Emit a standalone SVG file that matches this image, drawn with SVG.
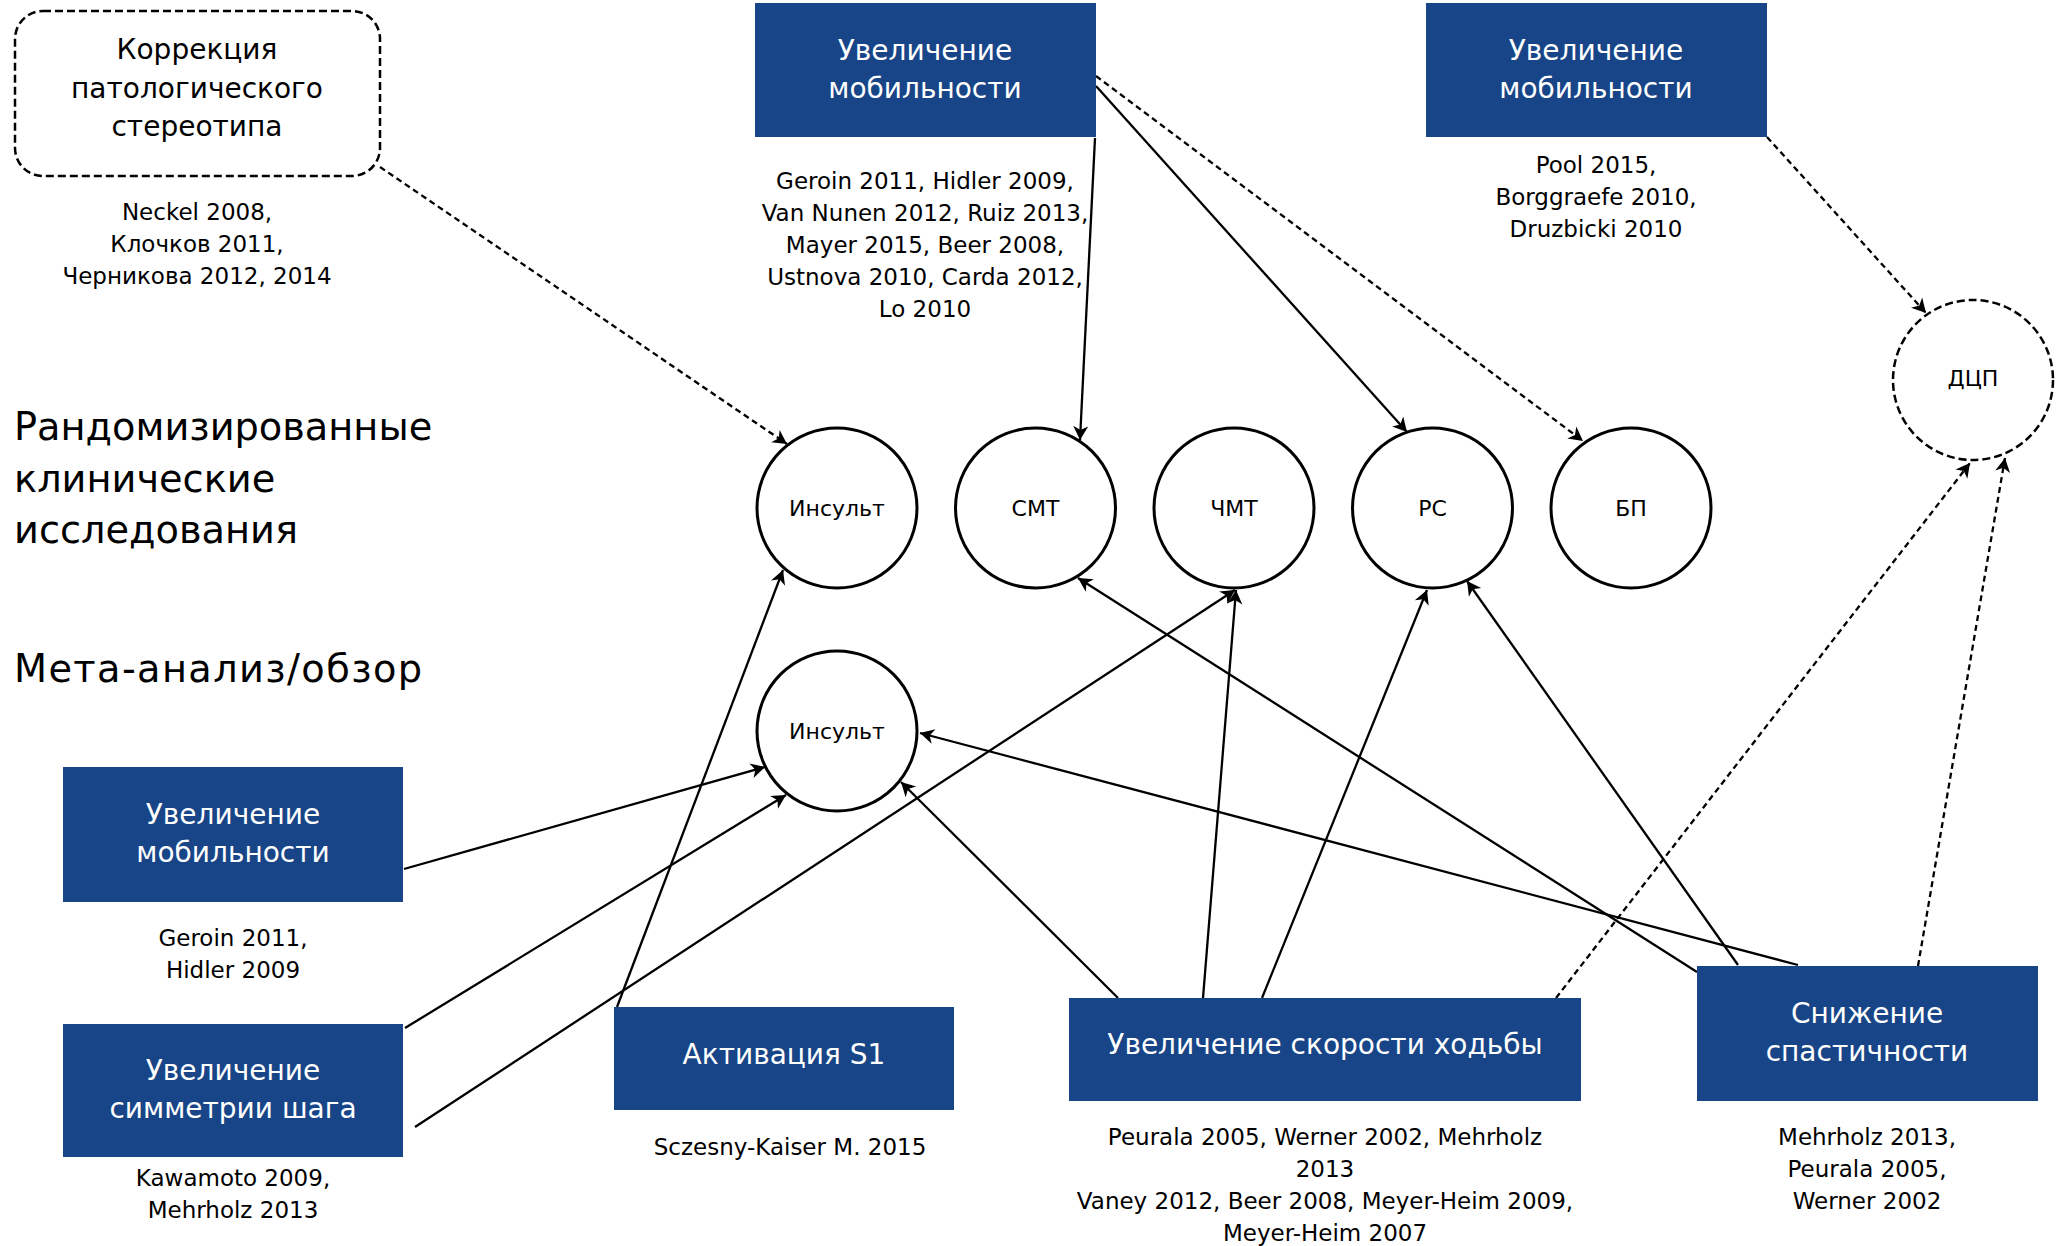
<svg xmlns="http://www.w3.org/2000/svg" width="2064" height="1246" viewBox="0 0 2064 1246">
<defs>
<style>
text{font-family:"DejaVu Sans","Liberation Sans",sans-serif;fill:#000}
.box{fill:#174587}
.bt{fill:#fff;font-size:28px;text-anchor:middle}
.cite{font-size:23px;text-anchor:middle}
.circ{fill:#fff;stroke:#000;stroke-width:3}
.dcirc{fill:#fff;stroke:#000;stroke-width:2.5;stroke-dasharray:8 4}
.cl{font-size:22px;text-anchor:middle}
.hdr{font-size:38.3px}
.ln{fill:none;stroke:#000;stroke-width:2.3;marker-end:url(#ah)}
.dl{fill:none;stroke:#000;stroke-width:2.3;stroke-dasharray:6 4;marker-end:url(#ah)}
</style>
<marker id="ah" markerUnits="userSpaceOnUse" markerWidth="20" markerHeight="20" refX="0" refY="0" viewBox="-16 -10 18 20" orient="auto" overflow="visible">
<path d="M-14,-7.5 L0,0 L-14,7.5 L-10,0 z" fill="#000"/>
</marker>
</defs>
<rect width="2064" height="1246" fill="#fff"/>

<g id="headers">
<text class="hdr" x="14" y="440">Рандомизированные</text>
<text class="hdr" x="14" y="492">клинические</text>
<text class="hdr" x="14" y="543">исследования</text>
<text class="hdr" x="14" y="682" textLength="408" lengthAdjust="spacing">Мета-анализ/обзор</text>
</g>

<g id="connectors">
<path class="dl" d="M380,167 L787,444"/>
<path class="ln" d="M1095,138 L1080,440"/>
<path class="ln" d="M1096,86 L1407,432"/>
<path class="dl" d="M1096,76 L1583,441"/>
<path class="dl" d="M1767,137 L1926,313"/>
<path class="ln" d="M617,1007 L783,570"/>
<path class="ln" d="M404,869 L765,767"/>
<path class="ln" d="M405,1028 L786,795"/>
<path class="ln" d="M415,1127 L1235,590"/>
<path class="ln" d="M1118,998 L901,782"/>
<path class="ln" d="M1203,998 L1236,590"/>
<path class="ln" d="M1262,998 L1427,590"/>
<path class="dl" d="M1556,998 L1970,463"/>
<path class="dl" d="M1918,966 L2005,458"/>
<path class="ln" d="M1697,972 L1078,578"/>
<path class="ln" d="M1738,965 L1467,581"/>
<path class="ln" d="M1798,965 L920,733"/>
</g>

<g id="node-correction">
<rect x="15" y="11" width="365" height="165" rx="28" fill="none" stroke="#000" stroke-width="2.5" stroke-dasharray="8 4"/>
<text class="bt" style="fill:#000" x="197" y="59">Коррекция</text>
<text class="bt" style="fill:#000" x="197" y="98">патологического</text>
<text class="bt" style="fill:#000" x="197" y="136">стереотипа</text>
<text class="cite" x="197" y="220">Neckel 2008,</text>
<text class="cite" x="197" y="252">Клочков 2011,</text>
<text class="cite" x="197" y="284">Черникова 2012, 2014</text>
</g>

<g id="node-mob-top">
<rect class="box" x="755" y="3" width="341" height="134"/>
<text class="bt" x="925" y="60">Увеличение</text>
<text class="bt" x="925" y="98">мобильности</text>
<text class="cite" x="925" y="189">Geroin 2011, Hidler 2009,</text>
<text class="cite" x="925" y="221">Van Nunen 2012, Ruiz 2013,</text>
<text class="cite" x="925" y="253">Mayer 2015, Beer 2008,</text>
<text class="cite" x="925" y="285">Ustnova 2010, Carda 2012,</text>
<text class="cite" x="925" y="317">Lo 2010</text>
</g>

<g id="node-mob-right">
<rect class="box" x="1426" y="3" width="341" height="134"/>
<text class="bt" x="1596" y="60">Увеличение</text>
<text class="bt" x="1596" y="98">мобильности</text>
<text class="cite" x="1596" y="173">Pool 2015,</text>
<text class="cite" x="1596" y="205">Borggraefe 2010,</text>
<text class="cite" x="1596" y="237">Druzbicki 2010</text>
</g>

<g id="node-dcp">
<circle class="dcirc" cx="1973" cy="380" r="80"/>
<text class="cl" x="1973" y="386">ДЦП</text>
</g>

<g id="node-stroke-rct">
<circle class="circ" cx="837" cy="508" r="80"/>
<text class="cl" x="837" y="516">Инсульт</text>
</g>
<g id="node-smt">
<circle class="circ" cx="1035.5" cy="508" r="80"/>
<text class="cl" x="1035.5" y="516">СМТ</text>
</g>
<g id="node-chmt">
<circle class="circ" cx="1234" cy="508" r="80"/>
<text class="cl" x="1234" y="516">ЧМТ</text>
</g>
<g id="node-rs">
<circle class="circ" cx="1432.5" cy="508" r="80"/>
<text class="cl" x="1432.5" y="516">РС</text>
</g>
<g id="node-bp">
<circle class="circ" cx="1631" cy="508" r="80"/>
<text class="cl" x="1631" y="516">БП</text>
</g>

<g id="node-stroke-meta">
<circle class="circ" cx="837" cy="731" r="80"/>
<text class="cl" x="837" y="739">Инсульт</text>
</g>

<g id="node-mob-left">
<rect class="box" x="63" y="767" width="340" height="135"/>
<text class="bt" x="233" y="824">Увеличение</text>
<text class="bt" x="233" y="862">мобильности</text>
<text class="cite" x="233" y="946">Geroin 2011,</text>
<text class="cite" x="233" y="978">Hidler 2009</text>
</g>

<g id="node-symmetry">
<rect class="box" x="63" y="1024" width="340" height="133"/>
<text class="bt" x="233" y="1080">Увеличение</text>
<text class="bt" x="233" y="1118">симметрии шага</text>
<text class="cite" x="233" y="1186">Kawamoto 2009,</text>
<text class="cite" x="233" y="1218">Mehrholz 2013</text>
</g>

<g id="node-s1">
<rect class="box" x="614" y="1007" width="340" height="103"/>
<text class="bt" x="784" y="1064">Активация S1</text>
<text class="cite" x="790" y="1155">Sczesny-Kaiser M. 2015</text>
</g>

<g id="node-speed">
<rect class="box" x="1069" y="998" width="512" height="103"/>
<text class="bt" x="1325" y="1054">Увеличение скорости ходьбы</text>
<text class="cite" x="1325" y="1145">Peurala 2005, Werner 2002, Mehrholz</text>
<text class="cite" x="1325" y="1177">2013</text>
<text class="cite" x="1325" y="1209">Vaney 2012, Beer 2008, Meyer-Heim 2009,</text>
<text class="cite" x="1325" y="1241">Meyer-Heim 2007</text>
</g>

<g id="node-spasticity">
<rect class="box" x="1697" y="966" width="341" height="135"/>
<text class="bt" x="1867" y="1023">Снижение</text>
<text class="bt" x="1867" y="1061">спастичности</text>
<text class="cite" x="1867" y="1145">Mehrholz 2013,</text>
<text class="cite" x="1867" y="1177">Peurala 2005,</text>
<text class="cite" x="1867" y="1209">Werner 2002</text>
</g>
</svg>
